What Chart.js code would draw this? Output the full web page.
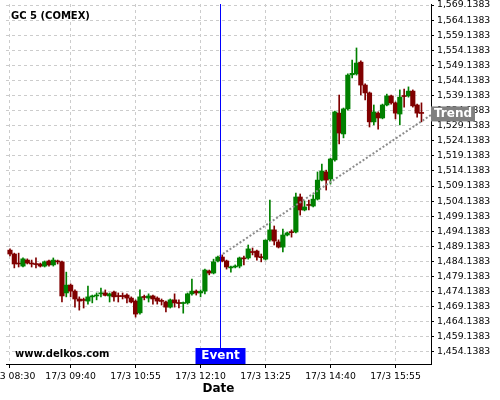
<!DOCTYPE html>
<html>
<head>
<meta charset="utf-8">
<title>GC 5 (COMEX)</title>
<script src="https://cdn.jsdelivr.net/npm/chart.js@4.4.0/dist/chart.umd.min.js"></script>
<style>
  body { margin: 0; background: #fff; }
</style>
</head>
<body>
<canvas id="goldChart" width="500" height="400"></canvas>
<script>
  // 5 minute candles, 17/3
  var times = ['08:30','08:35','08:40','08:45','08:50','08:55',
    '09:00','09:05','09:10','09:15','09:20','09:25','09:30','09:35','09:40','09:45','09:50','09:55',
    '10:00','10:05','10:10','10:15','10:20','10:25','10:30','10:35','10:40','10:45','10:50','10:55',
    '11:00','11:05','11:10','11:15','11:20','11:25','11:30','11:35','11:40','11:45','11:50','11:55',
    '12:00','12:05','12:10','12:15','12:20','12:25','12:30','12:35','12:40','12:45','12:50','12:55',
    '13:00','13:05','13:10','13:15','13:20','13:25','13:30','13:35','13:40','13:45','13:50','13:55',
    '14:00','14:05','14:10','14:15','14:20','14:25','14:30','14:35','14:40','14:45','14:50','14:55',
    '15:00','15:05','15:10','15:15','15:20','15:25','15:30','15:35','15:40','15:45','15:50','15:55',
    '16:00','16:05','16:10','16:15','16:20','16:25'];

  var open  = [1487.9,1486.6,1483.5,1482.6,1484.6,1483.6,1483.3,1483.3,1482.6,1484.3,1483.0,1484.1,
    1484.0,1473.7,1476.3,1474.3,1471.7,1471.4,1471.0,1472.4,1472.7,1473.4,1473.7,1472.7,
    1474.0,1472.7,1472.7,1473.0,1472.0,1471.0,1467.1,1472.4,1472.0,1472.7,1472.0,1471.0,
    1470.7,1469.0,1471.4,1470.4,1470.2,1470.4,1473.4,1474.3,1473.7,1474.3,1481.0,1480.3,
    1484.3,1485.6,1484.3,1482.0,1482.3,1482.6,1485.3,1485.3,1487.3,1487.6,1485.6,1484.9,
    1491.3,1494.6,1490.6,1488.9,1492.9,1493.9,1493.9,1505.5,1501.2,1502.9,1502.5,1504.8,
    1511.1,1513.8,1511.5,1517.8,1533.3,1526.4,1534.7,1546.0,1546.3,1550.2,1542.6,1540.0,
    1530.4,1533.3,1531.7,1536.0,1539.0,1536.7,1533.0,1539.0,1539.0,1540.6,1536.0,1533.3];
  var high  = [1488.3,1486.9,1486.9,1485.3,1485.0,1484.6,1485.3,1483.6,1484.3,1484.6,1485.3,1484.6,
    1484.3,1480.6,1476.7,1474.7,1472.4,1472.0,1476.0,1473.0,1473.7,1475.3,1474.7,1473.7,
    1474.3,1473.7,1473.7,1473.4,1472.4,1471.4,1474.7,1473.0,1473.4,1473.0,1472.4,1471.7,
    1471.0,1471.7,1473.4,1471.4,1470.7,1473.7,1478.3,1474.7,1474.7,1481.6,1481.3,1484.9,
    1485.9,1486.3,1484.6,1482.6,1483.0,1485.6,1485.9,1489.6,1488.6,1487.9,1486.6,1491.3,
    1504.5,1495.9,1491.3,1494.9,1493.9,1494.6,1506.8,1506.5,1504.2,1504.5,1506.2,1513.8,
    1516.4,1514.4,1518.4,1534.0,1539.3,1535.0,1546.3,1550.9,1554.9,1550.6,1543.0,1540.3,
    1536.0,1533.7,1536.3,1539.6,1539.3,1537.0,1541.0,1541.3,1542.0,1541.0,1536.3,1536.7];
  var low   = [1486.0,1482.0,1482.3,1482.3,1483.3,1482.3,1482.0,1482.3,1482.3,1482.6,1482.6,1483.3,
    1470.7,1472.4,1472.4,1469.0,1468.0,1468.7,1470.0,1470.4,1471.4,1472.4,1472.7,1470.7,
    1471.0,1470.7,1471.7,1470.4,1470.4,1465.7,1466.7,1471.4,1470.7,1470.0,1470.0,1469.7,
    1467.4,1468.7,1469.0,1468.7,1467.0,1470.0,1473.0,1473.0,1472.4,1473.4,1479.7,1480.0,
    1484.0,1484.0,1481.6,1480.6,1482.0,1482.0,1483.0,1484.9,1486.3,1484.6,1484.0,1484.6,
    1490.9,1489.6,1488.6,1487.3,1492.6,1492.2,1493.6,1499.5,1500.9,1501.2,1502.2,1504.5,
    1510.8,1507.8,1509.8,1517.4,1523.1,1525.1,1534.3,1545.0,1545.9,1539.3,1537.7,1528.7,
    1529.4,1528.0,1531.4,1535.7,1536.3,1531.4,1529.4,1535.3,1538.6,1535.3,1532.0,1530.4];
  var close = [1486.6,1483.3,1483.3,1485.0,1483.6,1483.3,1483.1,1482.6,1484.0,1483.0,1484.6,1484.0,
    1472.7,1476.3,1474.3,1471.7,1471.0,1471.2,1472.4,1472.7,1473.0,1473.7,1472.9,1473.4,
    1472.4,1472.5,1472.5,1472.0,1470.7,1466.7,1472.4,1472.2,1472.7,1471.7,1471.0,1470.9,
    1469.0,1471.4,1470.4,1470.2,1470.4,1473.4,1474.3,1473.7,1474.2,1481.3,1480.3,1484.0,
    1485.6,1484.3,1482.3,1482.1,1482.5,1485.3,1485.0,1488.3,1487.1,1485.6,1485.4,1491.2,
    1494.6,1490.9,1488.9,1492.9,1493.6,1493.7,1505.5,1501.2,1502.2,1502.7,1504.8,1511.1,
    1514.1,1511.1,1518.1,1533.7,1526.7,1534.7,1545.9,1546.5,1549.9,1542.6,1540.0,1530.4,
    1533.7,1531.7,1536.0,1539.0,1536.7,1533.3,1538.6,1538.8,1540.6,1535.7,1533.3,1533.2];

  var xTickTimes = ['08:30','09:40','10:55','12:10','13:25','14:40','15:55'];
  var yTicks = [1454.1383,1459.1383,1464.1383,1469.1383,1474.1383,1479.1383,1484.1383,1489.1383,
    1494.1383,1499.1383,1504.1383,1509.1383,1514.1383,1519.1383,1524.1383,1529.1383,
    1534.1383,1539.1383,1544.1383,1549.1383,1554.1383,1559.1383,1564.1383,1569.1383];

  var eventTime = '12:32';
  var trendTimes = ['12:32','16:36'];
  var trendValues = [1485.9,1532.7];

  var upColor = '#008000';
  var downColor = '#800000';

  // minutes after 08:30
  function mins(t) {
    var p = t.split(':');
    return parseInt(p[0], 10) * 60 + parseInt(p[1], 10) - 510;
  }
  function fmtPrice(v) {
    return v.toLocaleString('en-US', {minimumFractionDigits: 4, maximumFractionDigits: 4});
  }

  var colors = open.map(function(o, i) { return close[i] >= o ? upColor : downColor; });
  var bodies = times.map(function(t, i) { return {x: mins(t), y: [open[i], close[i]]}; });
  var wicks = times.map(function(t, i) { return {x: mins(t), y: [low[i], high[i]]}; });
  var trend = trendTimes.map(function(t, i) { return {x: mins(t), y: trendValues[i]}; });

  var overlay = {
    id: 'overlay',
    afterDraw: function(chart) {
      var ctx = chart.ctx;
      var area = chart.chartArea;
      var xs = chart.scales.x, ys = chart.scales.y;
      var ex = Math.round(xs.getPixelForValue(mins(eventTime))) + 0.5;

      ctx.save();
      // event line
      ctx.strokeStyle = '#0000ff';
      ctx.lineWidth = 1;
      ctx.beginPath();
      ctx.moveTo(ex, area.top);
      ctx.lineTo(ex, area.bottom);
      ctx.stroke();

      ctx.font = 'bold 12px "DejaVu Sans"';
      ctx.textAlign = 'center';
      ctx.textBaseline = 'middle';
      // event box
      ctx.fillStyle = '#0000ff';
      ctx.fillRect(ex - 25, area.bottom - 16, 50, 16);
      ctx.fillStyle = '#fff';
      ctx.fillText('Event', ex, area.bottom - 8);

      // trend box
      var ty = ys.getPixelForValue(trendValues[1]) - 1;
      ctx.fillStyle = '#808080';
      ctx.fillRect(area.right, ty - 7.5, 44, 15);
      ctx.fillStyle = '#fff';
      ctx.fillText('Trend', area.right + 22, ty);

      ctx.fillStyle = '#000';
      ctx.textAlign = 'left';
      ctx.font = 'bold 10px "DejaVu Sans"';
      ctx.fillText('GC 5 (COMEX)', 11, 16);
      ctx.fillText('www.delkos.com', 15, 354);
      ctx.restore();
    }
  };

  Chart.defaults.font.family = '"DejaVu Sans"';
  Chart.defaults.color = '#000';

  var ctx = document.getElementById('goldChart').getContext('2d');
  var goldChart = new Chart(ctx, {
    type: 'bar',
    data: {
      datasets: [{
        type: 'line',
        label: 'Trend',
        data: trend,
        borderColor: '#8c8c8c',
        borderWidth: 2,
        borderDash: [2, 2],
        pointRadius: 0,
        fill: false
      }, {
        label: 'Body',
        data: bodies,
        backgroundColor: colors,
        barThickness: 4.5,
        minBarLength: 1,
        grouped: false,
        borderWidth: 0
      }, {
        label: 'Wick',
        data: wicks,
        backgroundColor: colors,
        barThickness: 1,
        grouped: false,
        borderWidth: 0
      }]
    },
    options: {
      responsive: false,
      animation: false,
      layout: { padding: { left: 6, top: 4, right: 0, bottom: 0 } },
      plugins: {
        legend: { display: false },
        tooltip: { enabled: false }
      },
      scales: {
        x: {
          type: 'linear',
          offset: false,
          min: -4.6,
          max: 486,
          afterBuildTicks: function(scale) {
            scale.ticks = xTickTimes.map(function(t) { return {value: mins(t)}; });
          },
          afterFit: function(scale) {
            scale.height = 36;
            scale.paddingLeft = 0;
            scale.paddingRight = 0;
          },
          ticks: {
            autoSkip: false,
            maxRotation: 0,
            padding: 3,
            font: { size: 9.3 },
            callback: function(v, i) { return '17/3 ' + xTickTimes[i]; }
          },
          grid: { offset: false, color: '#cccccc', tickColor: '#000', tickLength: 4 },
          border: { display: true, color: '#000', width: 1, dash: [3, 3] },
          title: {
            display: true,
            text: 'Date',
            font: { size: 12, weight: 'bold' },
            padding: { top: 0, bottom: 4 }
          }
        },
        y: {
          position: 'right',
          min: 1450.15,
          max: 1569.47,
          afterBuildTicks: function(scale) {
            scale.ticks = yTicks.map(function(v) { return {value: v}; });
          },
          afterFit: function(scale) {
            scale.width = 69;
            scale.paddingTop = 0;
            scale.paddingBottom = 0;
          },
          ticks: {
            padding: 3,
            font: { size: 9.3 },
            callback: function(v) { return fmtPrice(v); }
          },
          grid: { color: '#cccccc', tickColor: '#000', tickLength: 3 },
          border: { display: true, color: '#000', width: 1, dash: [3, 3] }
        }
      }
    },
    plugins: [overlay]
  });
</script>
</body>
</html>
